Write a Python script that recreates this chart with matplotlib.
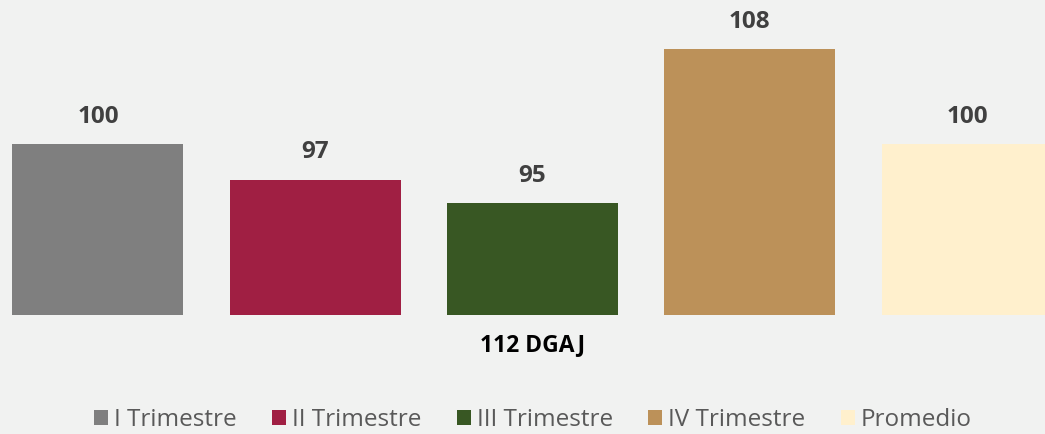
import matplotlib.pyplot as plt
from matplotlib.patches import Patch

plt.rcParams['font.family'] = ['Open Sans', 'DejaVu Sans']

category = "112 DGAJ"
series_names = ["I Trimestre", "II Trimestre", "III Trimestre", "IV Trimestre", "Promedio"]
values = [100, 97, 95, 108, 100]
colors = ['#7F7F7F', '#A01F43', '#385723', '#BC9159', '#FFF0CD']

bg = '#F1F2F1'
fig = plt.figure(figsize=(10.45, 4.34), dpi=100, facecolor=bg)
ax = fig.add_axes([0, 119 / 434, 1, 315 / 434])
ax.set_facecolor(bg)

offsets = [-2, -1, 0, 1, 2]
for off, v, c, name in zip(offsets, values, colors, series_names):
    ax.bar(off, v, width=0.787, color=c, label=name)
    ax.text(off, v + 1.3, str(v), ha='center', va='bottom', fontsize=17.5,
            fontweight='bold', color='#404040')

ax.set_ylim(85.6, 112.13)
ax.set_xlim(-2.451, 2.359)
for s in ax.spines.values():
    s.set_visible(False)
ax.set_yticks([])
ax.set_xticks([0])
ax.set_xticklabels([category], fontsize=16.5, fontweight='bold', color='black')
ax.tick_params(axis='x', length=0, pad=13)

handles = [Patch(facecolor=c, edgecolor='none') for c in colors]
fig.legend(handles, series_names, loc='lower center', bbox_to_anchor=(0.51, -0.045),
           ncol=5, frameon=False, fontsize=17.5, labelcolor='#595959',
           handlelength=0.58, handleheight=0.58, handletextpad=0.25, columnspacing=1.45)

fig.savefig('out.png', dpi=100, facecolor=bg)
